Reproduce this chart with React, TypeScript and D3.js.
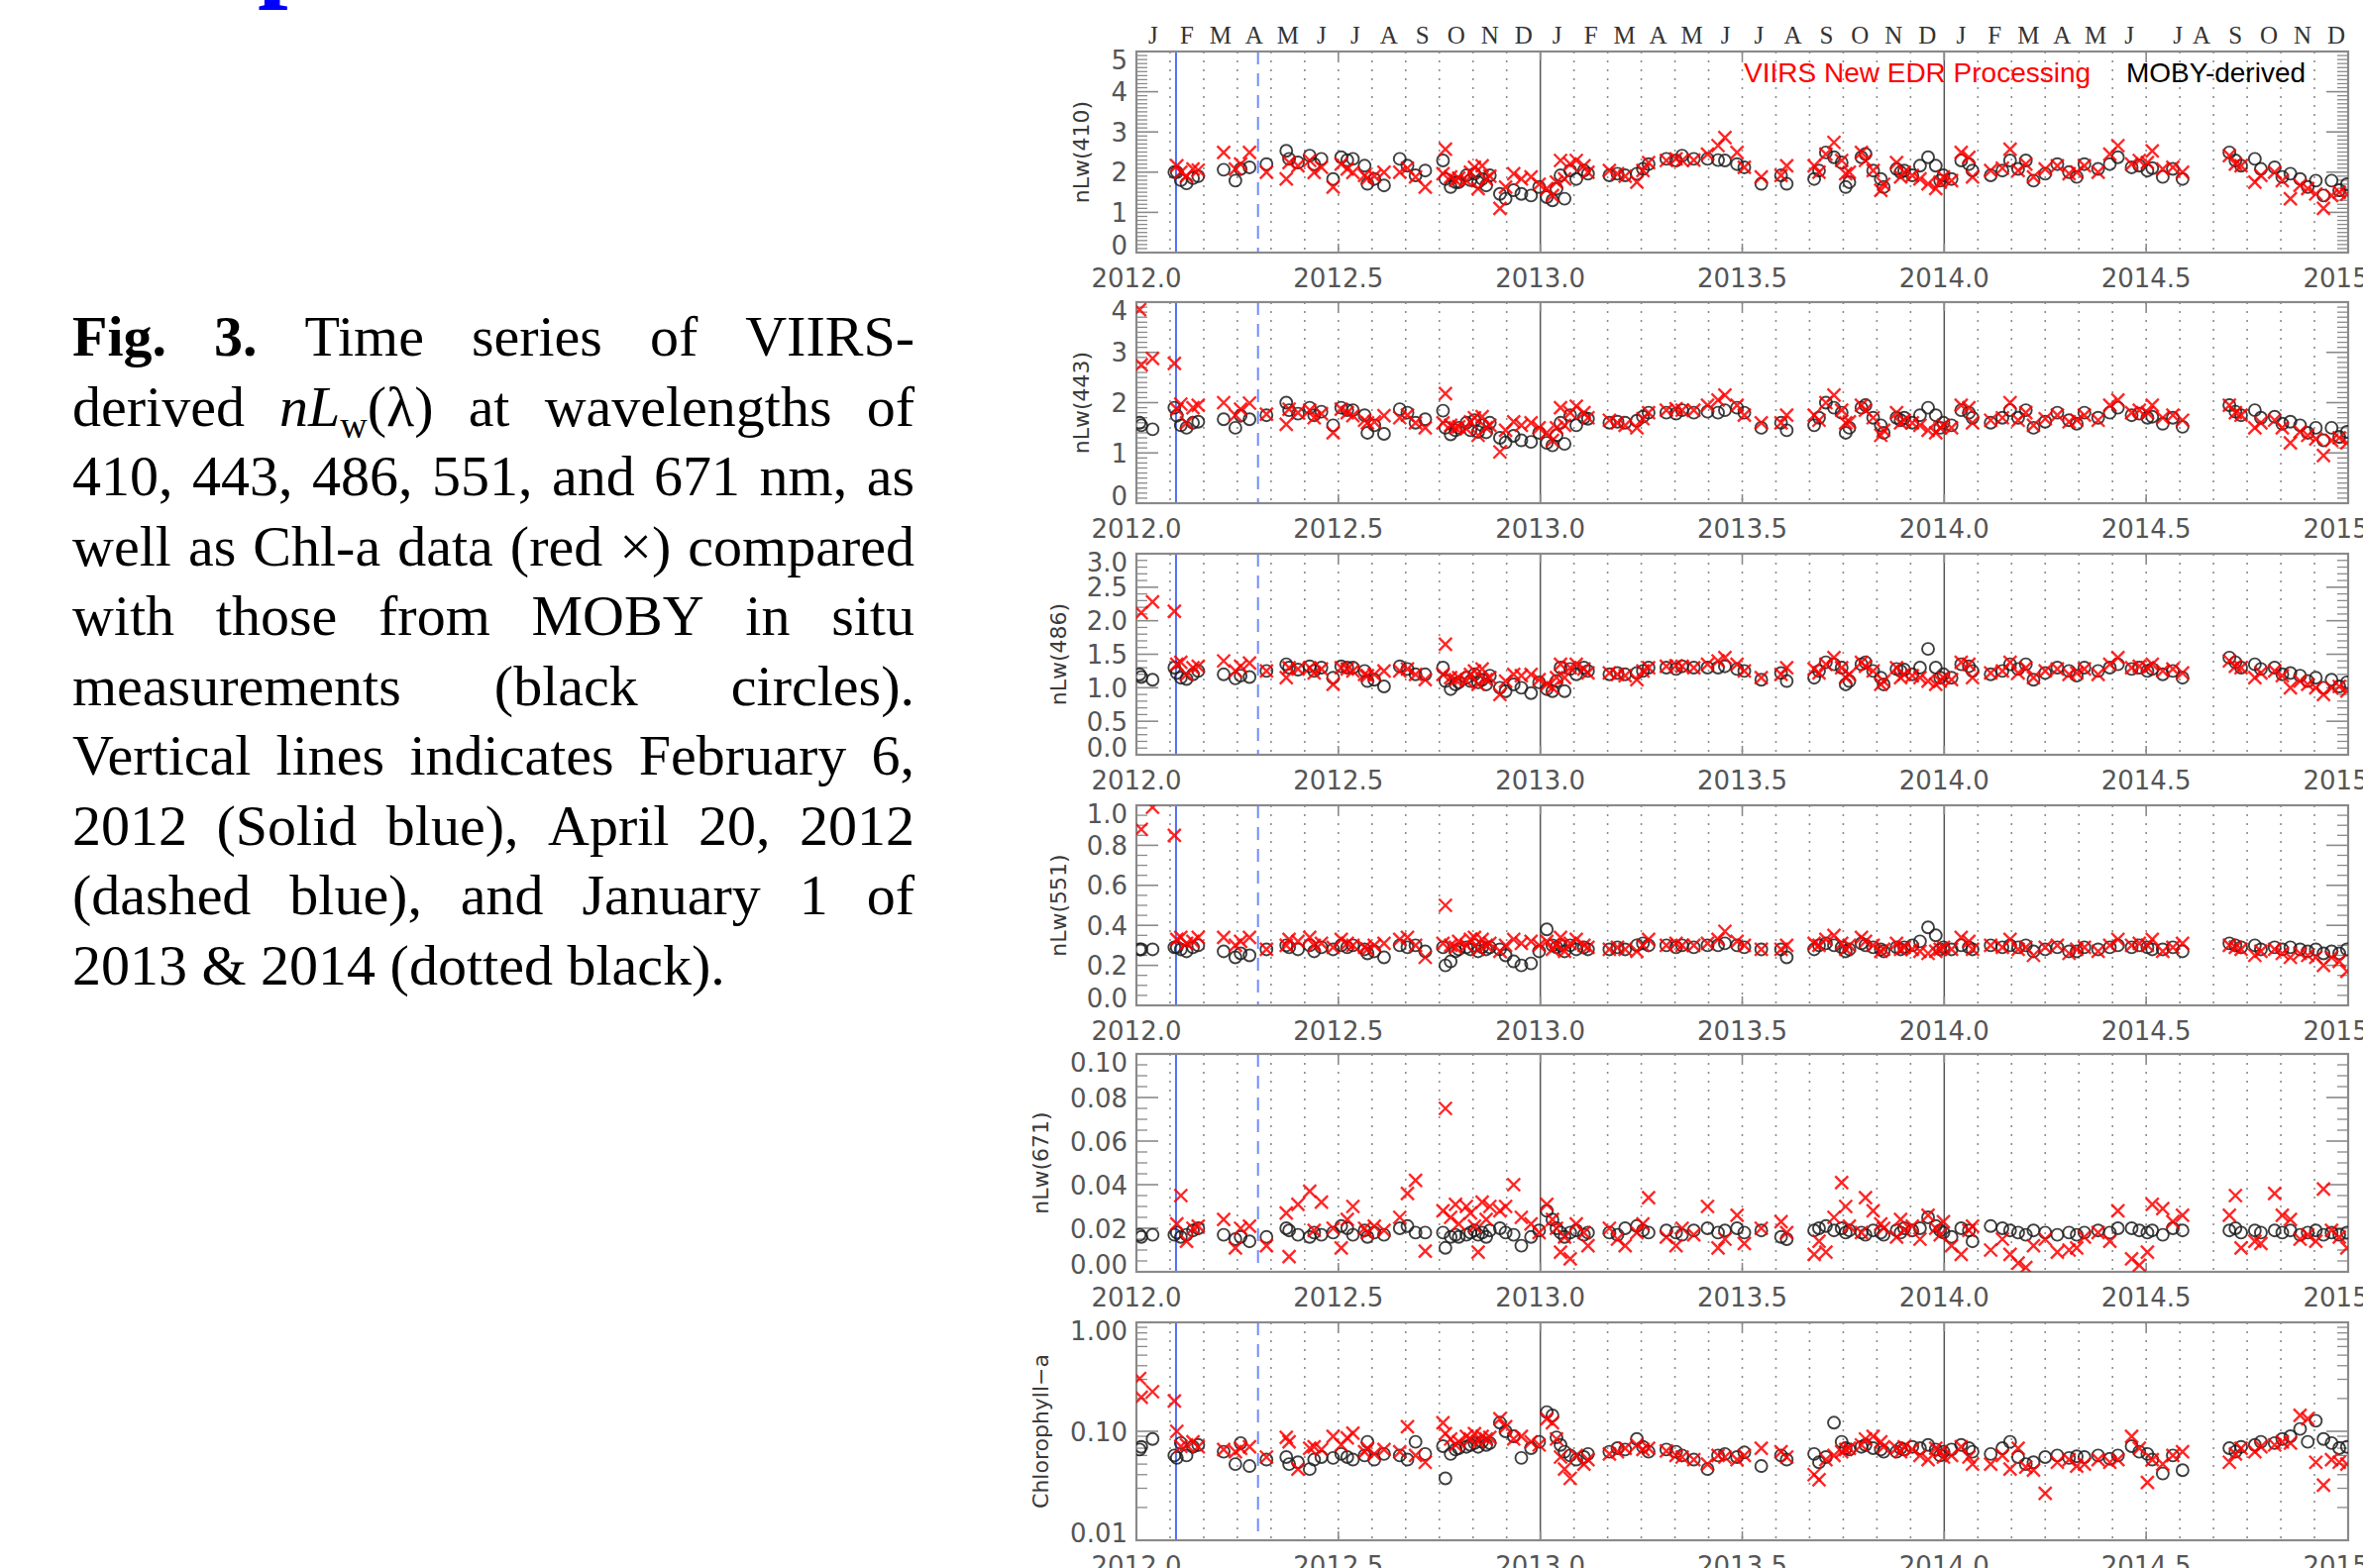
import React from 'react';
import * as d3 from 'd3';

// ---------------- DATA ----------------
const monthLetters = ['J', 'F', 'M', 'A', 'M', 'J', 'J', 'A', 'S', 'O', 'N', 'D'];
const years = [2012, 2013, 2014];
const xTickValues = [2012.0, 2012.5, 2013.0, 2013.5, 2014.0, 2014.5, 2015.0];
const xTickLabels = ['2012.0', '2012.5', '2013.0', '2013.5', '2014.0', '2014.5', '2015.0'];
const solidBlueDate = 2012.098; // Feb 6 2012
const dashedBlueDate = 2012.301; // Apr 20 2012
const yearLineDates = [2013.0, 2014.0];

// matchup dates (decimal year)
const dates = [
  2012.008, 2012.012, 2012.040, 2012.094,
  2012.100, 2012.110, 2012.124, 2012.140, 2012.153,
  2012.216, 2012.245, 2012.258, 2012.280, 2012.322,
  2012.371, 2012.378, 2012.400, 2012.429, 2012.440, 2012.458,
  2012.487, 2012.507, 2012.522, 2012.536, 2012.565, 2012.572, 2012.589, 2012.613,
  2012.652, 2012.671, 2012.691, 2012.715,
  2012.759, 2012.765, 2012.778, 2012.790, 2012.798, 2012.817, 2012.827, 2012.837, 2012.846, 2012.856, 2012.866, 2012.875,
  2012.900, 2012.914, 2012.934, 2012.953, 2012.977, 2012.997,
  2013.016, 2013.030, 2013.040, 2013.050, 2013.060, 2013.074, 2013.089, 2013.108, 2013.118,
  2013.171, 2013.191, 2013.210, 2013.239, 2013.254, 2013.268,
  2013.312, 2013.336, 2013.351, 2013.380, 2013.414, 2013.440, 2013.457, 2013.487, 2013.505, 2013.547,
  2013.596, 2013.610,
  2013.678, 2013.690, 2013.707, 2013.727, 2013.746, 2013.756, 2013.765, 2013.795, 2013.805, 2013.824, 2013.843, 2013.850,
  2013.882, 2013.892, 2013.901, 2013.921, 2013.940, 2013.960, 2013.979, 2013.990, 2013.998, 2014.018,
  2014.042, 2014.061, 2014.070,
  2014.115, 2014.144, 2014.163, 2014.183, 2014.202, 2014.221,
  2014.250, 2014.280, 2014.309, 2014.328, 2014.347, 2014.381, 2014.410, 2014.430,
  2014.464, 2014.483, 2014.503, 2014.515, 2014.541, 2014.566, 2014.590,
  2014.706, 2014.721, 2014.735, 2014.769, 2014.784, 2014.818, 2014.837, 2014.857, 2014.881, 2014.900, 2014.920, 2014.939, 2014.959, 2014.978, 2014.997,
];

const moby410 = [
  null, null, null, 2.0,
  2.0, 1.8, 1.72, 1.85, 1.9,
  2.06, 1.79, 2.08, 2.12, 2.2,
  2.53, 2.33, 2.24, 2.41, 2.2, 2.33,
  1.83, 2.37, 2.3, 2.33, 2.16, 1.71, 1.83, 1.67,
  2.33, 2.16, 1.92, 2.04,
  2.29, 1.83, 1.63, 1.75, 1.75, 1.92, 1.8, 1.96, 1.75, 1.83, 1.67, 1.92,
  1.46, 1.34, 1.55, 1.46, 1.42, 1.63,
  1.38, 1.3, 1.59, 1.92, 1.34, 2.04, 1.83, 2.04, 1.96,
  1.92, 1.96, 1.92, 1.96, 2.08, 2.2,
  2.33, 2.29, 2.41, 2.33, 2.33, 2.3, 2.29, 2.2, 2.12, 1.71,
  1.92, 1.71,
  1.83, 2.04, 2.49, 2.37, 2.24, 1.63, 1.75, 2.37, 2.45, 2.04, 1.83, 1.63,
  2.08, 2.0, 2.04, 1.92, 2.16, 2.37, 2.16, 1.79, 1.92, 1.83,
  2.29, 2.2, 2.04,
  1.92, 2.04, 2.29, 2.08, 2.29, 1.79,
  1.96, 2.2, 2.0, 1.88, 2.2, 2.08, 2.2, 2.37,
  2.12, 2.16, 2.04, 2.1, 1.88, 2.08, 1.83,
  2.49, 2.29, 2.16, 2.33, 2.08, 2.12, 1.88, 1.96, 1.83, 1.63, 1.79, 1.42, 1.79, 1.55, 1.7,
];
const viirs410 = [
  null, null, null, null,
  2.16, 2.0, 1.9, 2.08, 2.05,
  2.49, 2.08, 2.2, 2.49, 2.0,
  1.83, 2.24, 2.16, 2.29, 1.99, 2.12,
  1.63, 2.2, 2.08, 1.99, 1.92, 1.85, 1.9, 2.0,
  2.0, 2.1, 1.88, 1.63,
  1.96, 2.57, 1.88, 1.8, 1.85, 1.79, 2.0, 2.12, 1.59, 2.16, 1.83, 1.9,
  1.1, 1.63, 1.96, 1.83, 1.88, 1.7,
  1.59, 1.42, 1.75, 2.29, 1.83, 2.2, 2.29, 2.16, 2.0,
  2.04, 1.96, 1.9, 1.75, 2.04, 2.24,
  2.29, 2.33, 2.29, 2.3, 2.45, 2.66, 2.86, 2.49, 2.12, 1.88,
  1.92, 2.16,
  2.16, 2.0, 2.45, 2.74, 2.29, 1.96, 2.0, 2.49, 2.29, 2.04, 1.55, 1.7,
  2.24, 1.88, 2.0, 1.92, 1.83, 1.71, 1.59, 1.75, 1.88, 1.79,
  2.49, 2.37, 1.88,
  2.04, 2.1, 2.57, 2.04, 2.2, 1.88,
  2.08, 2.16, 1.96, 2.0, 2.16, 2.0, 2.45, 2.66,
  2.2, 2.29, 2.24, 2.53, 2.08, 2.12, 2.0,
  2.41, 2.2, 2.16, 1.75, 1.92, 2.0, 1.79, 1.34, 1.67, 1.59, 1.46, 1.1, 1.42, 1.5, 1.45,
];

const moby443 = [
  1.6, 1.55, 1.47, 1.9,
  1.74, 1.55, 1.5, 1.6, 1.62,
  1.67, 1.5, 1.74, 1.67, 1.75,
  2.0, 1.85, 1.78, 1.9, 1.75, 1.82,
  1.55, 1.9, 1.85, 1.85, 1.75, 1.4, 1.55, 1.38,
  1.87, 1.8, 1.6, 1.67,
  1.84, 1.5, 1.37, 1.45, 1.5, 1.6, 1.45, 1.65, 1.42, 1.55, 1.41, 1.6,
  1.3, 1.21, 1.34, 1.25, 1.22, 1.4,
  1.2, 1.15, 1.35, 1.6, 1.18, 1.75, 1.55, 1.7, 1.68,
  1.6, 1.62, 1.6, 1.64, 1.72, 1.8,
  1.8, 1.78, 1.85, 1.8, 1.82, 1.8, 1.85, 1.9, 1.8, 1.5,
  1.6, 1.45,
  1.55, 1.7, 2.0, 1.9, 1.8, 1.4, 1.5, 1.9, 1.95, 1.7, 1.55, 1.4,
  1.7, 1.65, 1.7, 1.6, 1.75, 1.9, 1.75, 1.5, 1.6, 1.55,
  1.85, 1.8, 1.7,
  1.6, 1.7, 1.85, 1.7, 1.85, 1.5,
  1.62, 1.8, 1.65, 1.58, 1.8, 1.7, 1.8, 1.9,
  1.75, 1.78, 1.7, 1.72, 1.58, 1.7, 1.52,
  1.95, 1.82, 1.75, 1.85, 1.7, 1.72, 1.58, 1.62, 1.55, 1.4, 1.5, 1.25, 1.5, 1.32, 1.42,
];
const viirs443 = [
  3.85, 2.75, 2.88, 2.78,
  1.87, 1.97, 1.6, 1.9, 1.95,
  2.0, 1.75, 1.87, 1.99, 1.77,
  1.57, 1.87, 1.8, 1.85, 1.7, 1.78,
  1.4, 1.87, 1.8, 1.74, 1.65, 1.6, 1.62, 1.74,
  1.7, 1.75, 1.6, 1.5,
  1.6, 2.18, 1.55, 1.5, 1.52, 1.48, 1.62, 1.7, 1.35, 1.72, 1.5, 1.55,
  1.02, 1.45, 1.62, 1.55, 1.6, 1.5,
  1.4, 1.25, 1.5, 1.9, 1.55, 1.8, 1.93, 1.8, 1.7,
  1.65, 1.6, 1.55, 1.5, 1.68, 1.8,
  1.85, 1.88, 1.85, 1.85, 1.95, 2.05, 2.15, 1.95, 1.75, 1.6,
  1.6, 1.75,
  1.75, 1.65, 2.0, 2.15, 1.85, 1.6, 1.62, 1.95, 1.85, 1.7, 1.35, 1.45,
  1.8, 1.6, 1.65, 1.6, 1.55, 1.45, 1.4, 1.5, 1.55, 1.5,
  1.95, 1.9, 1.6,
  1.65, 1.7, 2.0, 1.65, 1.8, 1.55,
  1.68, 1.75, 1.62, 1.65, 1.75, 1.65, 1.95, 2.05,
  1.8, 1.85, 1.8, 1.95, 1.7, 1.75, 1.65,
  1.95, 1.8, 1.75, 1.5, 1.6, 1.65, 1.5, 1.2, 1.42, 1.35, 1.28, 0.95, 1.25, 1.3, 1.2,
];

const moby486 = [
  1.2, 1.16, 1.12, 1.3,
  1.22, 1.15, 1.13, 1.2, 1.25,
  1.2, 1.14, 1.18, 1.16, 1.25,
  1.35, 1.3, 1.27, 1.32, 1.25, 1.3,
  1.15, 1.32, 1.3, 1.3, 1.25, 1.1, 1.12, 1.02,
  1.32, 1.28, 1.2, 1.2,
  1.3, 1.1, 0.98, 1.05, 1.08, 1.15, 1.1, 1.2, 1.08, 1.12, 1.05, 1.18,
  1.0, 0.95, 1.05, 1.0, 0.92, 1.08,
  0.98, 0.95, 1.1, 1.3, 0.95, 1.28, 1.2, 1.3, 1.25,
  1.2, 1.22, 1.2, 1.22, 1.25, 1.3,
  1.3, 1.28, 1.32, 1.3, 1.3, 1.3, 1.32, 1.28, 1.25, 1.12,
  1.22, 1.1,
  1.15, 1.25, 1.38, 1.35, 1.3, 1.05, 1.1, 1.35, 1.38, 1.25, 1.15, 1.05,
  1.28, 1.25, 1.27, 1.2, 1.3, 1.58, 1.3, 1.15, 1.2, 1.15,
  1.35, 1.32, 1.25,
  1.2, 1.25, 1.35, 1.28, 1.35, 1.12,
  1.22, 1.3, 1.25, 1.18, 1.3, 1.25, 1.3, 1.35,
  1.28, 1.3, 1.25, 1.28, 1.2, 1.25, 1.15,
  1.45, 1.38, 1.3, 1.35, 1.28, 1.3, 1.2, 1.22, 1.18, 1.1, 1.15, 1.0, 1.12, 1.02, 1.08,
];
const viirs486 = [
  null, 2.12, 2.28, 2.14,
  1.35, 1.38, 1.2, 1.3, 1.32,
  1.4, 1.25, 1.32, 1.37, 1.25,
  1.15, 1.3, 1.28, 1.3, 1.22, 1.28,
  1.05, 1.3, 1.28, 1.25, 1.2, 1.18, 1.2, 1.25,
  1.25, 1.28, 1.2, 1.12,
  1.2, 1.65, 1.15, 1.12, 1.15, 1.1, 1.2, 1.25, 1.05, 1.28, 1.12, 1.15,
  0.9, 1.1, 1.2, 1.18, 1.2, 1.12,
  1.05, 1.0, 1.15, 1.35, 1.15, 1.3, 1.35, 1.28, 1.22,
  1.22, 1.2, 1.18, 1.12, 1.25, 1.3,
  1.32, 1.33, 1.32, 1.3, 1.35, 1.4, 1.45, 1.35, 1.25, 1.15,
  1.2, 1.3,
  1.28, 1.22, 1.35, 1.45, 1.3, 1.15, 1.2, 1.38, 1.32, 1.25, 1.05, 1.1,
  1.3, 1.15, 1.2, 1.18, 1.15, 1.1, 1.05, 1.1, 1.15, 1.12,
  1.38, 1.35, 1.15,
  1.22, 1.25, 1.38, 1.22, 1.3, 1.15,
  1.25, 1.28, 1.2, 1.22, 1.28, 1.2, 1.35, 1.45,
  1.3, 1.32, 1.3, 1.35, 1.25, 1.28, 1.22,
  1.4, 1.32, 1.3, 1.15, 1.22, 1.25, 1.18, 1.0, 1.1, 1.05, 1.0, 0.9, 1.0, 1.02, 0.95,
];

const moby551 = [
  0.28, 0.28, 0.28, 0.29,
  0.29, 0.28, 0.27, 0.29, 0.3,
  0.27, 0.24, 0.26, 0.25, 0.28,
  0.3, 0.29, 0.28, 0.3, 0.27, 0.29,
  0.28, 0.3, 0.29, 0.3, 0.28, 0.26, 0.27, 0.24,
  0.3, 0.29, 0.3, 0.27,
  0.29, 0.2, 0.22, 0.27, 0.28, 0.29, 0.28, 0.3, 0.27, 0.29, 0.28, 0.29,
  0.28, 0.25, 0.22, 0.2, 0.21, 0.27,
  0.38, 0.3, 0.29, 0.3, 0.27, 0.3, 0.28, 0.29, 0.28,
  0.28, 0.29, 0.28, 0.3, 0.31, 0.3,
  0.3, 0.29, 0.3, 0.29, 0.3, 0.3, 0.31, 0.3, 0.29, 0.28,
  0.28, 0.24,
  0.28, 0.3, 0.31, 0.3, 0.29, 0.27, 0.28, 0.31, 0.3, 0.29, 0.28, 0.27,
  0.29, 0.28, 0.29, 0.3, 0.32, 0.39, 0.35, 0.28, 0.29, 0.28,
  0.3, 0.29, 0.28,
  0.3, 0.29, 0.3, 0.29, 0.3, 0.27,
  0.28, 0.29, 0.27, 0.27, 0.29, 0.28, 0.29, 0.3,
  0.29, 0.3, 0.29, 0.28, 0.28, 0.29, 0.27,
  0.31, 0.3, 0.29, 0.3, 0.28, 0.29, 0.28, 0.29, 0.28, 0.27, 0.28, 0.26, 0.27, 0.26, 0.28,
];
const viirs551 = [
  null, 0.88, 0.99, 0.85,
  0.33, 0.34, 0.31, 0.32, 0.34,
  0.34, 0.3, 0.32, 0.34, 0.28,
  0.3, 0.33, 0.32, 0.34, 0.3, 0.31,
  0.29, 0.33, 0.31, 0.3, 0.29, 0.28, 0.3, 0.31,
  0.33, 0.34, 0.3, 0.24,
  0.31, 0.5, 0.3, 0.29, 0.32, 0.3, 0.33, 0.34, 0.28, 0.33, 0.3, 0.31,
  0.27, 0.3, 0.33, 0.31, 0.32, 0.3,
  0.32, 0.28, 0.3, 0.34, 0.27, 0.31, 0.33, 0.3, 0.29,
  0.28, 0.29, 0.28, 0.27, 0.3, 0.33,
  0.3, 0.31, 0.3, 0.3, 0.31, 0.33, 0.37, 0.32, 0.3, 0.28,
  0.28, 0.3,
  0.31, 0.3, 0.33, 0.35, 0.31, 0.28, 0.3, 0.34, 0.32, 0.3, 0.27, 0.28,
  0.31, 0.28, 0.29, 0.28, 0.27, 0.26, 0.27, 0.28, 0.29, 0.28,
  0.34, 0.32, 0.28,
  0.3, 0.29, 0.33, 0.28, 0.29, 0.25,
  0.29, 0.3, 0.26, 0.28, 0.29, 0.27, 0.3, 0.33,
  0.3, 0.31, 0.3, 0.33, 0.27, 0.29, 0.31,
  0.3, 0.29, 0.28, 0.25, 0.27, 0.28, 0.26, 0.24, 0.26, 0.25, 0.24, 0.2, 0.24, 0.22, 0.17,
];

const moby671 = [
  0.017, 0.016, 0.017, 0.017,
  0.018, 0.016, 0.017, 0.019, 0.02,
  0.017, 0.015, 0.016, 0.014, 0.016,
  0.02, 0.019, 0.017, 0.016, 0.018, 0.017,
  0.018, 0.021, 0.02, 0.017, 0.019, 0.016, 0.018, 0.017,
  0.02, 0.021, 0.018, 0.018,
  0.018, 0.011, 0.016, 0.017, 0.016, 0.017, 0.018, 0.019, 0.017, 0.018, 0.016, 0.019,
  0.02, 0.018, 0.017, 0.012, 0.016, 0.019,
  0.028, 0.024, 0.02, 0.018, 0.016, 0.018, 0.019, 0.017, 0.018,
  0.018, 0.017, 0.02, 0.021, 0.019, 0.018,
  0.019, 0.018, 0.017, 0.019, 0.02, 0.018, 0.019, 0.02, 0.018, 0.019,
  0.016, 0.015,
  0.019, 0.02, 0.021, 0.019, 0.02, 0.018, 0.019, 0.018, 0.017, 0.019, 0.018, 0.017,
  0.019, 0.018, 0.02, 0.019, 0.02, 0.025, 0.021, 0.019, 0.018, 0.016,
  0.02, 0.019, 0.014,
  0.021, 0.02, 0.019, 0.018, 0.017, 0.019,
  0.018, 0.017, 0.018, 0.017, 0.018, 0.019, 0.018, 0.02,
  0.02, 0.019, 0.018, 0.019, 0.017, 0.02, 0.019,
  0.019, 0.02, 0.018, 0.019, 0.018, 0.019, 0.018, 0.019, 0.017, 0.018, 0.019, 0.017, 0.018, 0.017, 0.018,
];
const viirs671 = [
  null, null, null, null,
  0.022, 0.035, 0.014, 0.02, 0.021,
  0.024, 0.011, 0.02, 0.021, 0.012,
  0.027, 0.007, 0.031, 0.037, 0.019, 0.032,
  0.02, 0.011, 0.024, 0.03, 0.02, 0.018, 0.021, 0.019,
  0.025, 0.036, 0.042, 0.0095,
  0.028, 0.075, 0.025, 0.031, 0.022, 0.03, 0.027, 0.021, 0.009, 0.032, 0.024, 0.03,
  0.028, 0.03, 0.04, 0.025, 0.022, 0.018,
  0.031, 0.024, 0.02, 0.009, 0.016, 0.006, 0.022, 0.018, 0.012,
  0.02, 0.015, 0.012, 0.018, 0.022, 0.034,
  0.016, 0.012, 0.02, 0.017, 0.03, 0.011, 0.015, 0.026, 0.013, 0.02,
  0.023, 0.018,
  0.008, 0.014, 0.009, 0.025, 0.041, 0.03, 0.021, 0.018, 0.034, 0.028, 0.022, 0.02,
  0.016, 0.024, 0.019, 0.021, 0.015, 0.026, 0.02, 0.017, 0.023, 0.012,
  0.008, 0.019, 0.021,
  0.01, 0.015, 0.008, 0.004, 0.002, 0.012,
  0.015, 0.009, 0.01, 0.011, 0.016, 0.018, 0.014, 0.028,
  0.006, 0.003, 0.009, 0.031, 0.029, 0.023, 0.026,
  0.026, 0.035, 0.011, 0.014, 0.013, 0.036, 0.026, 0.024, 0.015, 0.017, 0.014, 0.038, 0.019, 0.016, 0.011,
];

const mobyChl = [
  0.068, 0.072, 0.085, 0.06,
  0.057, 0.078, 0.06, 0.072, 0.075,
  0.065, 0.05, 0.078, 0.048, 0.055,
  0.058, 0.05, 0.052, 0.045, 0.055, 0.058,
  0.057, 0.062, 0.058, 0.055, 0.06, 0.08, 0.055, 0.062,
  0.06, 0.055, 0.08, 0.062,
  0.073, 0.037, 0.062, 0.068, 0.07, 0.072, 0.075, 0.078, 0.072, 0.08, 0.075, 0.078,
  0.12, 0.1, 0.09, 0.057, 0.07, 0.08,
  0.15, 0.14, 0.088, 0.075, 0.065, 0.06, 0.055, 0.058, 0.062,
  0.065, 0.07, 0.068, 0.085, 0.072, 0.065,
  0.068, 0.065, 0.06, 0.055, 0.045, 0.06, 0.062, 0.058, 0.064, 0.048,
  0.06, 0.055,
  0.062, 0.052, 0.058, 0.12, 0.08, 0.07, 0.068, 0.072, 0.075, 0.07, 0.068, 0.065,
  0.065, 0.07, 0.068, 0.072, 0.07, 0.075, 0.068, 0.06, 0.065, 0.068,
  0.075, 0.07, 0.065,
  0.062, 0.07, 0.08, 0.058, 0.05, 0.052,
  0.058, 0.06, 0.057, 0.059, 0.058, 0.06, 0.056, 0.06,
  0.073, 0.065, 0.062, 0.055, 0.041, 0.06, 0.044,
  0.07, 0.065, 0.072, 0.075, 0.08, 0.078, 0.085, 0.09, 0.105, 0.08, 0.125, 0.085, 0.078, 0.07, 0.072,
];
const viirsChl = [
  0.305, 0.205, 0.231, 0.19,
  0.1, 0.073, 0.075, 0.08, 0.072,
  0.068, 0.065, 0.07, 0.072, 0.058,
  0.088, 0.08, 0.045, 0.07, 0.072, 0.068,
  0.09, 0.075, 0.087, 0.096, 0.065, 0.07, 0.062, 0.068,
  0.065, 0.11, 0.06, 0.052,
  0.12, 0.095, 0.085, 0.075, 0.08, 0.09, 0.085, 0.095, 0.08, 0.09, 0.085, 0.088,
  0.13, 0.11, 0.085, 0.09, 0.08, 0.075,
  0.13, 0.12, 0.085, 0.058, 0.045, 0.037, 0.06, 0.05, 0.055,
  0.062, 0.065, 0.07, 0.075, 0.068, 0.07,
  0.066, 0.06, 0.058, 0.055, 0.05, 0.06, 0.058, 0.055, 0.06, 0.07,
  0.065, 0.058,
  0.04, 0.036, 0.055, 0.06, 0.065, 0.068, 0.07, 0.075, 0.085, 0.09, 0.08, 0.072,
  0.07, 0.065, 0.072, 0.068, 0.06, 0.055, 0.07, 0.065, 0.058, 0.06,
  0.072, 0.058, 0.05,
  0.05, 0.06, 0.045, 0.07, 0.047, 0.044,
  0.027, 0.052, 0.055, 0.048, 0.05, 0.055, 0.052, 0.055,
  0.09, 0.07, 0.034, 0.055, 0.05, 0.06, 0.065,
  0.052, 0.062, 0.07, 0.065, 0.072, 0.075, 0.08, 0.078, 0.14, 0.13, 0.052, 0.032, 0.055, 0.052, 0.05,
];

const titles = ['nLw(410)', 'nLw(443)', 'nLw(486)', 'nLw(551)', 'nLw(671)', 'Chlorophyll\u2212a'];
const legendLabels = ['VIIRS New EDR Processing', 'MOBY-derived'];

// ---------------- LAYOUT ----------------
const W = 2385;
const H = 1583;
const X0 = 1147;
const X1 = 2370;
const LABEL_FONT = "'DejaVu Sans', Verdana, sans-serif";
const SERIF = "'Liberation Serif', 'Times New Roman', serif";
const SANS = "'Liberation Sans', Arial, Helvetica, sans-serif";
const AXIS_COLOR = '#8a8a8a';
const LABEL_COLOR = '#555555';

type PanelCfg = {
  top: number; bottom: number; log?: boolean; domain: [number, number];
  majors: number[]; fmt: (v: number) => string; minor: number[];
  moby: (number | null)[]; viirs: (number | null)[]; title: string; titleX: number; legend?: boolean;
};

const linMinor = (a: number, b: number, step: number, majorStep: number) =>
  d3.range(Math.round((b - a) / step) + 1).map(i => a + i * step)
    .filter(v => Math.abs(v / majorStep - Math.round(v / majorStep)) > 1e-6);

const panels: PanelCfg[] = [
  { top: 52, bottom: 255, domain: [0, 5], majors: [0, 1, 2, 3, 4, 5], fmt: v => v.toFixed(0), minor: linMinor(0, 5, 0.1, 1), moby: moby410, viirs: viirs410, title: titles[0], titleX: 1091, legend: true },
  { top: 305, bottom: 508, domain: [0, 4], majors: [0, 1, 2, 3, 4], fmt: v => v.toFixed(0), minor: linMinor(0, 4, 0.1, 1), moby: moby443, viirs: viirs443, title: titles[1], titleX: 1091 },
  { top: 559, bottom: 762, domain: [0, 3], majors: [0, 0.5, 1, 1.5, 2, 2.5, 3], fmt: v => v.toFixed(1), minor: linMinor(0, 3, 0.1, 0.5), moby: moby486, viirs: viirs486, title: titles[2], titleX: 1068 },
  { top: 813, bottom: 1015, domain: [0, 1], majors: [0, 0.2, 0.4, 0.6, 0.8, 1], fmt: v => v.toFixed(1), minor: linMinor(0, 1, 0.05, 0.2), moby: moby551, viirs: viirs551, title: titles[3], titleX: 1068 },
  { top: 1064, bottom: 1284, domain: [0, 0.1], majors: [0, 0.02, 0.04, 0.06, 0.08, 0.1], fmt: v => v.toFixed(2), minor: linMinor(0, 0.1, 0.005, 0.02), moby: moby671, viirs: viirs671, title: titles[4], titleX: 1050 },
  { top: 1335, bottom: 1555, log: true, domain: [0.01, 1], majors: [0.01, 0.1, 1], fmt: v => v.toFixed(2), minor: [0.01, 0.1].flatMap(d => d3.range(2, 10).map(k => k * d)), moby: mobyChl, viirs: viirsChl, title: titles[5], titleX: 1050 },
];

// ---------------- CAPTION ----------------
type Seg = { t: string; b?: boolean; i?: boolean; sub?: boolean };
const w = (t: string): Seg[] => [{ t }];
const captionLines: Seg[][][] = [
  [[{ t: 'Fig.', b: true }], [{ t: '3.', b: true }], w('Time'), w('series'), w('of'), w('VIIRS-')],
  [w('derived'), [{ t: 'nL', i: true }, { t: 'w', sub: true }, { t: '(\u03bb)' }], w('at'), w('wavelengths'), w('of')],
  [w('410,'), w('443,'), w('486,'), w('551,'), w('and'), w('671'), w('nm,'), w('as')],
  [w('well'), w('as'), w('Chl-a'), w('data'), w('(red'), w('\u00d7)'), w('compared')],
  [w('with'), w('those'), w('from'), w('MOBY'), w('in'), w('situ')],
  [w('measurements'), w('(black'), w('circles).')],
  [w('Vertical'), w('lines'), w('indicates'), w('February'), w('6,')],
  [w('2012'), w('(Solid'), w('blue),'), w('April'), w('20,'), w('2012')],
  [w('(dashed'), w('blue),'), w('and'), w('January'), w('1'), w('of')],
  [w('2013'), w('&'), w('2014'), w('(dotted'), w('black).')],
];
const CAP_LEFT = 73;
const CAP_RIGHT = 923;
const CAP_BASE = 359;
const CAP_LEAD = 70.5;
const CAP_SIZE = 58;
const CAP_SUB = 38;

function Caption() {
  const ctx = typeof document !== 'undefined' ? document.createElement('canvas').getContext('2d') : null;
  const fontOf = (s: Seg) => `${s.i ? 'italic ' : ''}${s.b ? 'bold ' : ''}${s.sub ? CAP_SUB : CAP_SIZE}px "Liberation Serif"`;
  const wid = (s: Seg) => {
    if (!ctx) return s.t.length * (s.sub ? CAP_SUB : CAP_SIZE) * 0.45;
    ctx.font = fontOf(s);
    return ctx.measureText(s.t).width;
  };
  const els: React.ReactNode[] = [];
  captionLines.forEach((line, li) => {
    const base = CAP_BASE + li * CAP_LEAD;
    const ww = line.map(word => word.reduce((a, s) => a + wid(s), 0));
    const total = ww.reduce((a, b) => a + b, 0);
    const justify = li < captionLines.length - 1;
    const gap = justify && line.length > 1 ? (CAP_RIGHT - CAP_LEFT - total) / (line.length - 1) : wid({ t: ' ' });
    let xx = CAP_LEFT;
    line.forEach((word, wi) => {
      let sx = xx;
      word.forEach((s, si) => {
        els.push(
          <text key={`c${li}-${wi}-${si}`} x={sx} y={s.sub ? base + 12 : base}
            fontFamily={SERIF} fontSize={s.sub ? CAP_SUB : CAP_SIZE}
            fontStyle={s.i ? 'italic' : 'normal'} fontWeight={s.b ? 'bold' : 'normal'} fill="#000">
            {s.t}
          </text>
        );
        sx += wid(s);
      });
      xx += ww[wi] + gap;
    });
  });
  return <g>{els}</g>;
}

// ---------------- PANEL ----------------
const x = d3.scaleLinear().domain([2012, 2015]).range([X0, X1]);

function Panel({ p, idx }: { p: PanelCfg; idx: number }) {
  const y = p.log
    ? d3.scaleLog().domain(p.domain).range([p.bottom, p.top])
    : d3.scaleLinear().domain(p.domain).range([p.bottom, p.top]);
  const inDomain = (v: number | null | undefined) =>
    v !== null && v !== undefined && !isNaN(v as number) && (v as number) >= p.domain[0] && (v as number) <= p.domain[1] * 1.0001;
  const clipId = `clip${idx}`;
  const monthLines: number[] = [];
  years.forEach(yr => d3.range(1, 12).forEach(m => monthLines.push(yr + m / 12)));
  const MAJ = 22, MIN = 11;
  const midY = (p.top + p.bottom) / 2;
  const circles = dates.map((d, i) => ({ d, v: p.moby[i] })).filter(o => inDomain(o.v));
  const crosses = dates.map((d, i) => ({ d, v: p.viirs[i] })).filter(o => inDomain(o.v));
  const cs = 6.5;
  return (
    <g>
      <defs>
        <clipPath id={clipId}>
          <rect x={X0} y={p.top} width={X1 - X0} height={p.bottom - p.top} />
        </clipPath>
      </defs>
      {/* monthly dotted grid */}
      {monthLines.map((m, i) => (
        <line key={`m${i}`} x1={x(m)} x2={x(m)} y1={p.top} y2={p.bottom} stroke="#8c8c8c" strokeWidth={1.6} strokeDasharray="2,7" />
      ))}
      {yearLineDates.map((yv, i) => (
        <line key={`y${i}`} x1={x(yv)} x2={x(yv)} y1={p.top} y2={p.bottom} stroke="#555" strokeWidth={1.5} />
      ))}
      <line x1={x(solidBlueDate)} x2={x(solidBlueDate)} y1={p.top} y2={p.bottom} stroke="#4f6fff" strokeWidth={2} />
      <line x1={x(dashedBlueDate)} x2={x(dashedBlueDate)} y1={p.top} y2={p.bottom} stroke="#6f8cff" strokeWidth={2} strokeDasharray="13,9" />
      {/* frame */}
      <rect x={X0} y={p.top} width={X1 - X0} height={p.bottom - p.top} fill="none" stroke={AXIS_COLOR} strokeWidth={2.2} />
      {/* y ticks */}
      {p.majors.map((v, i) => (
        <g key={`mj${i}`}>
          <line x1={X0} x2={X0 + MAJ} y1={y(v)} y2={y(v)} stroke={AXIS_COLOR} strokeWidth={1.6} />
          <line x1={X1} x2={X1 - MAJ} y1={y(v)} y2={y(v)} stroke={AXIS_COLOR} strokeWidth={1.6} />
        </g>
      ))}
      {p.minor.map((v, i) => (
        <g key={`mn${i}`}>
          <line x1={X0} x2={X0 + MIN} y1={y(v)} y2={y(v)} stroke={AXIS_COLOR} strokeWidth={1.3} />
          <line x1={X1} x2={X1 - MIN} y1={y(v)} y2={y(v)} stroke={AXIS_COLOR} strokeWidth={1.3} />
        </g>
      ))}
      {/* x ticks */}
      {xTickValues.slice(1, -1).map((v, i) => (
        <g key={`xt${i}`}>
          <line x1={x(v)} x2={x(v)} y1={p.bottom} y2={p.bottom - 9} stroke={AXIS_COLOR} strokeWidth={1.6} />
          <line x1={x(v)} x2={x(v)} y1={p.top} y2={p.top + 9} stroke={AXIS_COLOR} strokeWidth={1.6} />
        </g>
      ))}
      {/* y tick labels */}
      {p.majors.map((v, i) => {
        const shift = i === 0 ? -8 : i === p.majors.length - 1 ? 8 : 0;
        return (
          <text key={`yl${i}`} x={1138} y={y(v) + 9.5 + shift} textAnchor="end" fontFamily={LABEL_FONT} fontSize={26} fill={LABEL_COLOR}>
            {p.fmt(v)}
          </text>
        );
      })}
      {/* x tick labels */}
      {xTickValues.map((v, i) => (
        <text key={`xl${i}`} x={x(v)} y={p.bottom + 34.5} textAnchor="middle" fontFamily={LABEL_FONT} fontSize={26} fill={LABEL_COLOR}>
          {xTickLabels[i]}
        </text>
      ))}
      {/* y title */}
      <text transform={`translate(${p.titleX},${midY}) rotate(-90)`} textAnchor="middle" dominantBaseline="central"
        fontFamily={LABEL_FONT} fontSize={22} fill="#3a3a3a">
        {p.title}
      </text>
      {/* data */}
      <g clipPath={`url(#${clipId})`}>
        {circles.map((o, i) => (
          <circle key={`c${i}`} cx={x(o.d)} cy={y(o.v as number)} r={6} fill="none" stroke="#1e1e1e" strokeWidth={1.9} strokeOpacity={0.85} />
        ))}
        {crosses.map((o, i) => {
          const cx = x(o.d);
          const cy = y(o.v as number);
          return (
            <path key={`x${i}`} d={`M${cx - cs},${cy - cs}L${cx + cs},${cy + cs}M${cx - cs},${cy + cs}L${cx + cs},${cy - cs}`}
              stroke="#ff0000" strokeWidth={2.4} strokeOpacity={0.85} fill="none" />
          );
        })}
      </g>
      {p.legend && (
        <g>
          <text x={1760} y={83} fontFamily={SANS} fontSize={28} fill="#ff0000">{legendLabels[0]}</text>
          <text x={2146} y={83} fontFamily={SANS} fontSize={28} fill="#000">{legendLabels[1]}</text>
        </g>
      )}
    </g>
  );
}

function MonthRow() {
  const els: React.ReactNode[] = [];
  years.forEach((yr, yi) => {
    monthLetters.forEach((m, mi) => {
      const k = yi * 12 + mi;
      const dx = k === 30 ? 15 : k > 30 ? 5 : 0;
      els.push(
        <text key={`ml${k}`} x={x(yr + (mi + 0.5) / 12) + dx} y={44} textAnchor="middle" fontFamily={SERIF} fontSize={25} fill="#333">
          {m}
        </text>
      );
    });
  });
  return <g>{els}</g>;
}

export default function App() {
  return (
    <svg width={W} height={H} viewBox={`0 0 ${W} ${H}`} xmlns="http://www.w3.org/2000/svg"
      style={{ position: 'absolute', left: 0, top: 0, background: '#fff' }}>
      <rect x={0} y={0} width={W} height={H} fill="#fff" />
      {/* cut-off heading letter at top */}
      <text x={260} y={-13} fontFamily={SERIF} fontWeight="bold" fontSize={110} fill="#0000ff">p</text>
      <Caption />
      <MonthRow />
      {panels.map((p, i) => <Panel key={i} p={p} idx={i} />)}
    </svg>
  );
}
